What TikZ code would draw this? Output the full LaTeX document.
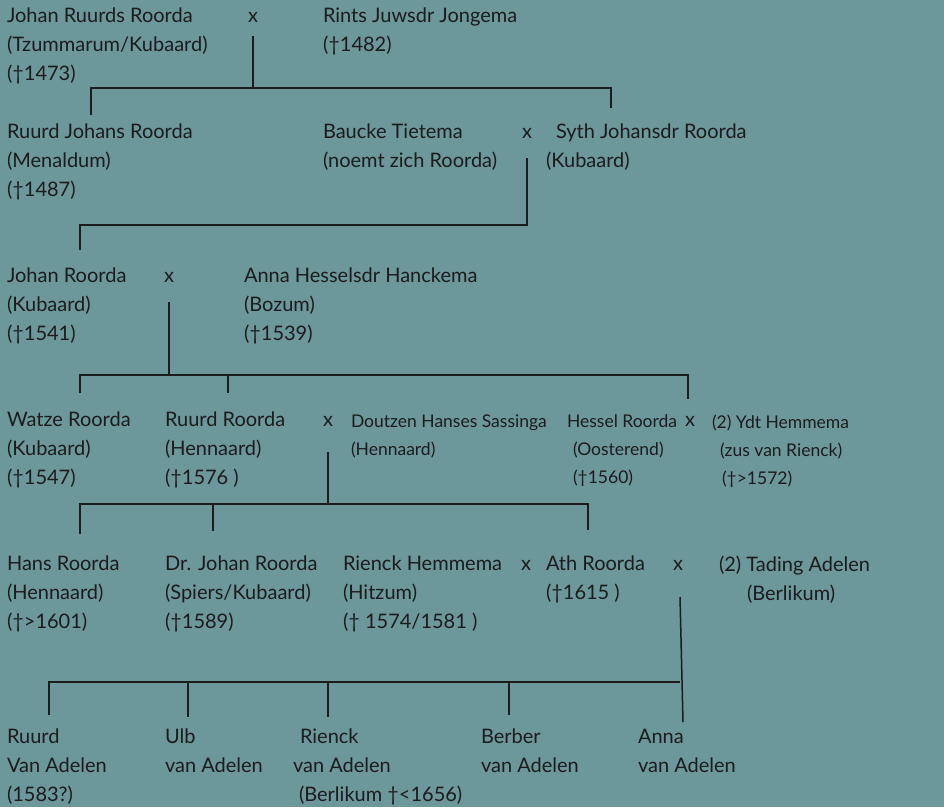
\documentclass[tikz,border=0pt]{standalone}
\usepackage{fontspec}
\setmainfont{Lato}
\usepackage{xcolor}
\usepackage{tikz}
\definecolor{bgteal}{RGB}{108,151,155}
\definecolor{ink}{RGB}{28,28,28}

\begin{document}
\begin{tikzpicture}[x=1pt,y=-1pt,line width=1.5pt,color=ink,font=\fontsize{20}{29}\selectfont]
    \tikzstyle{person}=[anchor=north west, yshift=14pt, align=left, inner sep=0pt, outer sep=0pt, execute at begin node={\rule{0pt}{18pt}}]
    \tikzstyle{small}=[font=\fontsize{17.5}{28}\selectfont, yshift=-3pt]
    \tikzstyle{wed}=[anchor=base, inner sep=0pt, outer sep=0pt]
    \fill[bgteal] (0,0) rectangle (944,807);
    \useasboundingbox (0,0) rectangle (944,807);

	% generation 1
	\node [person] (jrr) at (7,22) {Johan Ruurds Roorda\\(Tzummarum/Kubaard)\\(†1473)};
	\node [wed] (x1) at (253,22) {x};
	\node [person] (rjj) at (323,22) {Rints Juwsdr Jongema\\(†1482)};

	% generation 2
	\node [person] (rjr) at (7,138) {Ruurd Johans Roorda\\(Menaldum)\\(†1487)};
	\node [person] (bt) at (323,138) {Baucke Tietema\\(noemt zich Roorda)};
	\node [wed] (x2) at (527,138) {x};
	\node [person] (sjr) at (546,138) {\hspace*{10pt}Syth Johansdr Roorda\\(Kubaard)};

	% generation 3
	\node [person] (jr) at (7,282) {Johan Roorda\\(Kubaard)\\(†1541)};
	\node [wed] (x3) at (169,282) {x};
	\node [person] (ahh) at (244,282) {Anna Hesselsdr Hanckema\\(Bozum)\\(†1539)};

	% generation 4
	\node [person] (wr) at (7,426) {Watze Roorda\\(Kubaard)\\(†1547)};
	\node [person] (rr) at (165,426) {Ruurd Roorda\\(Hennaard)\\(†1576 )};
	\node [wed] (x4) at (328,426) {x};
	\node [person, small] (dhs) at (351,426) {Doutzen Hanses Sassinga\\(Hennaard)};
	\node [person, small] (hsr) at (567,426) {Hessel Roorda\\\hspace*{6pt}(Oosterend)\\\hspace*{6pt}(†1560)};
	\node [wed] (x5) at (690,426) {x};
	\node [person, small] (ydh) at (712,426) {(2) Ydt Hemmema\\\hspace*{8pt}(zus van Rienck)\\\hspace*{10pt}(†>1572)};

	% generation 5
	\node [person] (hns) at (7,570) {Hans Roorda\\(Hennaard)\\(†>1601)};
	\node [person] (djr) at (165,570) {Dr. Johan Roorda\\(Spiers/Kubaard)\\(†1589)};
	\node [person] (rhm) at (343,570) {Rienck Hemmema\\(Hitzum)\\(† 1574/1581 )};
	\node [wed] (x6) at (526,570) {x};
	\node [person] (ath) at (546,570) {Ath Roorda\\(†1615 )};
	\node [wed] (x7) at (678,570) {x};
	\node [person] (tad) at (719,570) {(2) Tading Adelen\\\hspace*{28pt}(Berlikum)};

	% generation 6
	\node [person] (ruv) at (7,743) {Ruurd\\Van Adelen\\(1583?)};
	\node [person] (ulb) at (165,743) {Ulb\\van Adelen};
	\node [person] (riv) at (293,743) {\hspace*{7pt}Rienck\\van Adelen\\\hspace*{6pt}(Berlikum †<1656)};
	\node [person] (bbv) at (481,743) {Berber\\van Adelen};
	\node [person] (anv) at (638,743) {Anna\\van Adelen};

	% lines
	\coordinate (b1l) at (91,88);
	\coordinate (b1r) at (611,88);
	\draw [shorten <=9pt, shorten >=16pt] (b1l |- rjr.north) -- (b1l) -- (b1r) -- (b1r |- sjr.north);
	\draw ([yshift=-14pt]x1.base) -- (x1 |- b1l);

	\coordinate (b2l) at (80,225);
	\coordinate (b2r) at (527,225);
	\draw [shorten <=18pt] (b2l |- jr.north) -- (b2l) -- (b2r) -- ([yshift=-20pt]x2.base);

	\coordinate (b3l) at (80,375);
	\coordinate (b3m) at (228,375);
	\coordinate (b3r) at (688,375);
	\draw [shorten <=19pt, shorten >=16pt] (b3l |- wr.north) -- (b3l) -- (b3r) -- (b3r |- hsr.north);
	\draw [shorten >=19pt] (b3m) -- (b3m |- rr.north);
	\draw ([yshift=-20pt]x3.base) -- (x3 |- b3l);

	\coordinate (b4l) at (80,504);
	\coordinate (b4m) at (213,504);
	\coordinate (b4r) at (588,504);
	\draw [shorten <=22pt, shorten >=26pt] (b4l |- hns.north) -- (b4l) -- (b4r) -- (b4r |- ath.north);
	\draw [shorten >=25pt] (b4m) -- (b4m |- djr.north);
	\draw ([yshift=-26pt]x4.base) -- (x4 |- b4l);

	\coordinate (b5l) at (49,682);
	\coordinate (b5a) at (188,682);
	\coordinate (b5b) at (328,682);
	\coordinate (b5c) at (509,682);
	\coordinate (b5r) at (680,682);
	\coordinate (s7) at (683,722);
	\draw [shorten <=14pt] (b5l |- ruv.north) -- (b5l) -- (b5r);
	\draw [shorten >=12pt] (b5a) -- (b5a |- ulb.north);
	\draw [shorten >=12pt] (b5b) -- (b5b |- riv.north);
	\draw [shorten >=14pt] (b5c) -- (b5c |- bbv.north);
	\draw ([xshift=2pt,yshift=-27pt]x7.base) -- (s7);
\end{tikzpicture}
\end{document}
